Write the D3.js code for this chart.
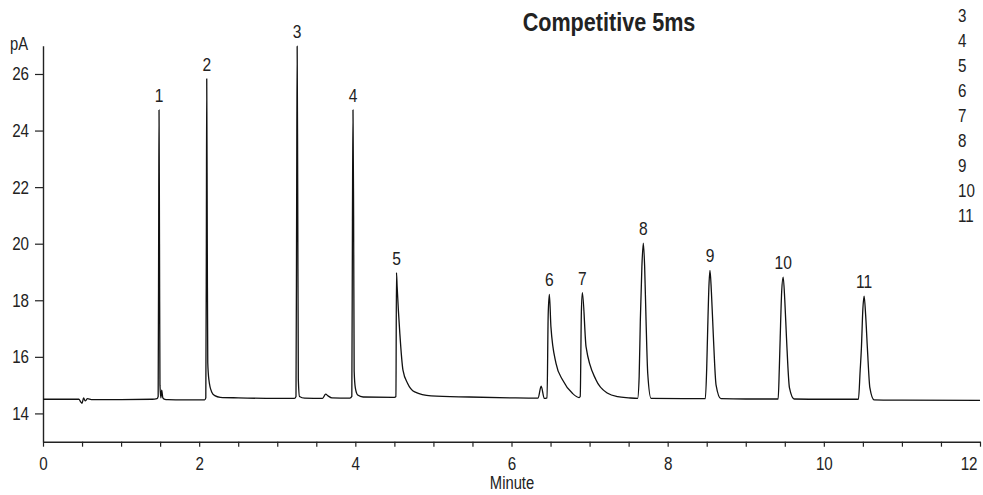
<!DOCTYPE html>
<html>
<head>
<meta charset="utf-8">
<script src="https://cdn.jsdelivr.net/npm/d3@7"></script>
<style>
    body { margin: 0; background: #fff; }
    svg text { font-family: "Liberation Sans", Arial, sans-serif; fill: #222; }
</style>
</head>
<body>
<div id="chart"></div>
<script>
// Trace: [minute, pA]
const trace = [
    [0, 14.50], [0.46, 14.50], [0.48, 14.42], [0.50, 14.36], [0.52, 14.55], [0.54, 14.44], [0.57, 14.52],
    [0.62, 14.49], [1.0, 14.49], [1.40, 14.50], [1.46, 14.52], [1.475, 14.6], [1.482, 21.0], [1.486, 24.73],
    [1.492, 20.0], [1.498, 15.0], [1.51, 14.55], [1.52, 14.82], [1.535, 14.55], [1.56, 14.50], [1.6, 14.49],
    [1.8, 14.48], [2.07, 14.48], [2.085, 14.55], [2.092, 20.0], [2.097, 25.83], [2.104, 20.0], [2.11, 15.8],
    [2.125, 15.18], [2.16, 14.76], [2.20, 14.63], [2.27, 14.57], [2.5, 14.55], [3.0, 14.53], [3.22, 14.53],
    [3.24, 14.6], [3.248, 21.0], [3.255, 26.98], [3.262, 22.0], [3.27, 15.2], [3.285, 14.6], [3.35, 14.54],
    [3.58, 14.53], [3.62, 14.68], [3.65, 14.62], [3.70, 14.55], [3.93, 14.54], [3.955, 14.6], [3.963, 20.8],
    [3.97, 24.73], [3.978, 21.0], [3.985, 15.5], [4.0, 14.9], [4.03, 14.65], [4.1, 14.58], [4.5, 14.57],
    [4.52, 14.6], [4.527, 18.98], [4.535, 18.5], [4.57, 16.82], [4.61, 15.53], [4.67, 15.06], [4.76, 14.76],
    [4.97, 14.62], [5.46, 14.58], [6.0, 14.55], [6.34, 14.54], [6.38, 14.96], [6.42, 14.53], [6.455, 14.55],
    [6.47, 17.5], [6.485, 18.21], [6.505, 17.06], [6.57, 15.77], [6.655, 15.18], [6.78, 14.71], [6.865, 14.56],
    [6.88, 14.6], [6.895, 17.6], [6.908, 18.27], [6.955, 16.35], [7.083, 15.18], [7.232, 14.71], [7.36, 14.59],
    [7.50, 14.55], [7.615, 14.53], [7.635, 15.3], [7.65, 17.3], [7.67, 19.2], [7.688, 20.02], [7.705, 19.2],
    [7.723, 17.3], [7.745, 15.4], [7.787, 14.53], [8.2, 14.52], [8.482, 14.52], [8.50, 15.6], [8.511, 16.8],
    [8.53, 18.6], [8.542, 19.06], [8.56, 18.3], [8.584, 16.8], [8.62, 15.0], [8.682, 14.52], [9.0, 14.51],
    [9.415, 14.51], [9.43, 15.6], [9.441, 16.66], [9.46, 18.3], [9.479, 18.82], [9.50, 18.0], [9.522, 16.66],
    [9.56, 14.9], [9.62, 14.51], [10.0, 14.50], [10.443, 14.50], [10.465, 15.5], [10.481, 16.3], [10.50, 17.7],
    [10.516, 18.15], [10.535, 17.5], [10.558, 16.3], [10.59, 14.9], [10.643, 14.48], [11.0, 14.47], [12.0, 14.46]
];

// Peak labels
const peakIds = ["1", "2", "3", "4", "5", "6", "7", "8", "9", "10", "11"];
const peakTimes = [1.486, 2.097, 3.255, 3.97, 4.527, 6.485, 6.908, 7.688, 8.542, 9.479, 10.516];
const peakHeights = [24.73, 25.83, 26.98, 24.73, 18.98, 18.21, 18.27, 20.02, 19.06, 18.82, 18.15];

// Cut-off list on the right
const legendItems = ["3", "4", "5", "6", "7", "8", "9", "10", "11"];

const xTicks = d3.range(0, 12.01, 0.5);
const yTicks = [14, 16, 18, 20, 22, 24, 26];

const width = 983, height = 495;
const margin = { top: 45.7, right: 3, bottom: 53.3, left: 43 };

// squeeze text to look like a condensed face
function condense(sel, k = 0.82) {
    sel.each(function () {
        const w = this.getComputedTextLength();
        if (w > 0) {
            d3.select(this)
                .attr("textLength", w * k)
                .attr("lengthAdjust", "spacingAndGlyphs");
        }
    });
}

const svg = d3.select("#chart").append("svg")
    .attr("width", width)
    .attr("height", height);

const x = d3.scaleLinear().domain([0, 12]).range([margin.left, width - margin.right]);
const y = d3.scaleLinear().domain([13, 27]).range([height - margin.bottom, margin.top]);

// Axes
const xAxis = svg.append("g")
    .attr("transform", `translate(0,${height - margin.bottom})`)
    .call(d3.axisBottom(x)
        .tickValues(xTicks)
        .tickSize(5)
        .tickSizeOuter(0)
        .tickPadding(10)
        .tickFormat(d => d % 2 === 0 ? d : ""));

const yAxis = svg.append("g")
    .attr("transform", `translate(${margin.left},0)`)
    .call(d3.axisLeft(y)
        .tickValues(yTicks)
        .tickSize(8)
        .tickSizeOuter(0)
        .tickPadding(6));

[xAxis, yAxis].forEach(g => {
    g.select(".domain").attr("stroke", "#222").attr("stroke-width", 1.4);
    g.selectAll(".tick line").attr("stroke", "#222").attr("stroke-width", 1.2);
    g.selectAll(".tick text").style("font-size", "18.5px").attr("fill", "#222").call(condense);
});

// last label sits at the edge
xAxis.selectAll(".tick text").filter(d => d === 12)
    .attr("text-anchor", "end")
    .attr("dx", -3);

// Trace
const line = d3.line()
    .x(d => x(d[0]))
    .y(d => y(d[1]))
    .curve(d3.curveMonotoneX);

svg.append("path")
    .datum(trace)
    .attr("d", line)
    .attr("fill", "none")
    .attr("stroke", "#111")
    .attr("stroke-width", 1.3)
    .attr("stroke-linejoin", "round");

// Peak numbers
svg.selectAll(".peak-label")
    .data(peakIds)
    .join("text")
    .attr("class", "peak-label")
    .attr("x", (d, i) => x(peakTimes[i]))
    .attr("y", (d, i) => y(peakHeights[i]) - 8)
    .attr("text-anchor", "middle")
    .style("font-size", "19px")
    .text(d => d)
    .call(condense);

// Unit + axis title
svg.append("text")
    .attr("x", 28).attr("y", 50)
    .attr("text-anchor", "end")
    .style("font-size", "18px")
    .text("pA")
    .call(condense);

svg.append("text")
    .attr("x", 512).attr("y", 489)
    .attr("text-anchor", "middle")
    .style("font-size", "18px")
    .text("Minute")
    .call(condense);

svg.append("text")
    .attr("x", 609).attr("y", 31)
    .attr("text-anchor", "middle")
    .style("font-size", "26px")
    .style("font-weight", "bold")
    .text("Competitive 5ms")
    .call(condense, 0.83);

// Right-hand list
svg.selectAll(".legend-item")
    .data(legendItems)
    .join("text")
    .attr("class", "legend-item")
    .attr("x", 958)
    .attr("y", (d, i) => 22 + i * 25)
    .style("font-size", "18.5px")
    .text(d => d)
    .call(condense);
</script>
</body>
</html>
